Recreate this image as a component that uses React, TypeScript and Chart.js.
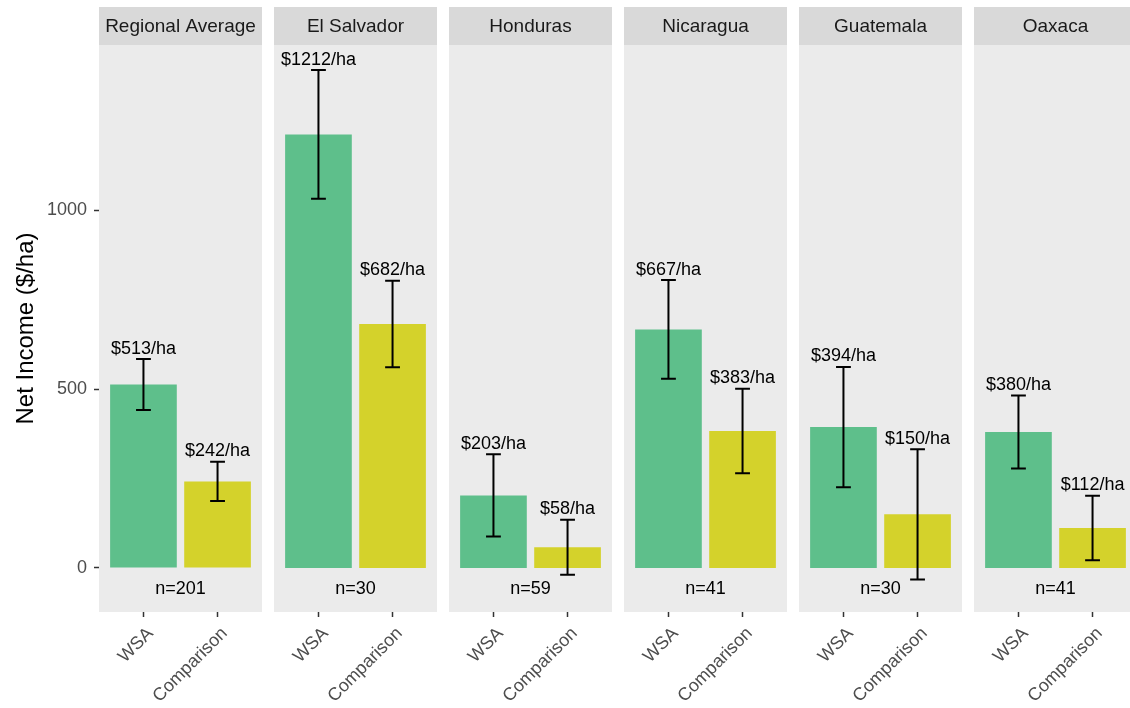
import React, { useEffect, useRef } from "react";
import { Chart, registerables } from "chart.js";

Chart.register(...registerables);

// Net income per hectare, WSA plots vs. comparison plots, by region
const regions = ["Regional Average", "El Salvador", "Honduras", "Nicaragua", "Guatemala", "Oaxaca"];
const groups = ["WSA", "Comparison"];
const wsaIncome = [513, 1212, 203, 667, 394, 380];
const comparisonIncome = [242, 682, 58, 383, 150, 112];
const wsaError = [71, 180, 115, 138, 168, 102];
const comparisonError = [55, 121, 77, 118, 182, 90];
const sampleSizes = [201, 30, 59, 41, 30, 41];
const yTicks = [0, 500, 1000];

const Y_MIN = -123;
const Y_MAX = 1462;
const N_LABEL_Y = -60;

const groupColors = ["#5EBF8B", "#D4D22B"];
const FONT = "'Liberation Sans', Arial, Helvetica, sans-serif";

const WIDTH = 1130;
const HEIGHT = 708;
const AXIS_WIDTH = 99;
const PANEL_WIDTH = 163;
const PANEL_GAP = 12;
const STRIP_TOP = 7;
const PANEL_TOP = 45;
const PANEL_BOTTOM = 612;

function makeFacetPlugin(i: number) {
  const means = [wsaIncome[i], comparisonIncome[i]];
  const errors = [wsaError[i], comparisonError[i]];
  return {
    id: "facet" + i,
    beforeDraw(chart: any) {
      const { ctx, chartArea } = chart;
      const { left, right, top, bottom } = chartArea;
      ctx.save();
      ctx.fillStyle = "#EBEBEB";
      ctx.fillRect(left, top, right - left, bottom - top);
      ctx.fillStyle = "#D9D9D9";
      ctx.fillRect(left, STRIP_TOP, right - left, top - STRIP_TOP);
      ctx.fillStyle = "#1A1A1A";
      ctx.font = `19px ${FONT}`;
      ctx.textAlign = "center";
      ctx.textBaseline = "middle";
      ctx.fillText(regions[i], (left + right) / 2, (STRIP_TOP + top) / 2 + 1);
      ctx.restore();
    },
    afterDatasetsDraw(chart: any) {
      const { ctx, chartArea } = chart;
      const xs = chart.scales.x;
      const ys = chart.scales.y;
      ctx.save();
      means.forEach((m, k) => {
        const xv = k + 1;
        const cx = xs.getPixelForValue(xv);
        const capL = xs.getPixelForValue(xv - 0.1);
        const capR = xs.getPixelForValue(xv + 0.1);
        const hi = ys.getPixelForValue(m + errors[k]);
        const lo = ys.getPixelForValue(m - errors[k]);
        ctx.strokeStyle = "#000";
        ctx.lineWidth = 2;
        ctx.beginPath();
        ctx.moveTo(cx, hi);
        ctx.lineTo(cx, lo);
        ctx.moveTo(capL, hi);
        ctx.lineTo(capR, hi);
        ctx.moveTo(capL, lo);
        ctx.lineTo(capR, lo);
        ctx.stroke();
        ctx.fillStyle = "#000";
        ctx.font = `18px ${FONT}`;
        ctx.textAlign = "center";
        ctx.textBaseline = "alphabetic";
        ctx.fillText(`$${m}/ha`, cx, hi - 5.5);
      });
      ctx.fillStyle = "#000";
      ctx.font = `18px ${FONT}`;
      ctx.textAlign = "center";
      ctx.textBaseline = "middle";
      ctx.fillText(`n=${sampleSizes[i]}`, (chartArea.left + chartArea.right) / 2, ys.getPixelForValue(N_LABEL_Y));
      ctx.restore();
    },
  };
}

function Panel({ index }: { index: number }) {
  const ref = useRef<HTMLCanvasElement>(null);
  const first = index === 0;
  const half = PANEL_GAP / 2;
  const canvasLeft = first ? 0 : AXIS_WIDTH + (PANEL_WIDTH + PANEL_GAP) * index - half;
  const canvasWidth = first ? AXIS_WIDTH + PANEL_WIDTH + half : PANEL_WIDTH + PANEL_GAP;

  useEffect(() => {
    if (!ref.current) return;
    const chart = new Chart(ref.current, {
      type: "bar",
      data: {
        datasets: [
          {
            data: groups.map((_, k) => ({
              x: k + 1,
              y: k === 0 ? wsaIncome[index] : comparisonIncome[index],
            })),
            backgroundColor: groupColors,
            borderWidth: 0,
            barPercentage: 0.9,
            categoryPercentage: 1,
          },
        ],
      },
      options: {
        animation: false,
        responsive: false,
        devicePixelRatio: 1,
        events: [],
        layout: {
          padding: { left: first ? 0 : half, right: half, top: PANEL_TOP, bottom: 0 },
        },
        plugins: {
          legend: { display: false },
          tooltip: { enabled: false },
        },
        scales: {
          x: {
            type: "linear",
            min: 0.4,
            max: 2.6,
            offset: false,
            afterBuildTicks: (s: any) => {
              s.ticks = groups.map((_, k) => ({ value: k + 1 }));
            },
            afterFit: (s: any) => {
              s.height = HEIGHT - PANEL_BOTTOM;
              s.paddingLeft = 0;
              s.paddingRight = 0;
            },
            ticks: {
              callback: (_v: any, idx: number) => groups[idx],
              autoSkip: false,
              minRotation: 45,
              maxRotation: 45,
              color: "#4D4D4D",
              font: { family: FONT, size: 18 },
              padding: 6,
              labelOffset: 7,
            },
            grid: {
              display: true,
              offset: false,
              drawOnChartArea: false,
              drawTicks: true,
              tickLength: 5,
              tickColor: "#333333",
              tickWidth: 1.5,
            },
            border: { display: false },
          },
          y: {
            type: "linear",
            min: Y_MIN,
            max: Y_MAX,
            display: first,
            afterBuildTicks: (s: any) => {
              s.ticks = yTicks.map((v) => ({ value: v }));
            },
            afterFit: (s: any) => {
              s.width = first ? AXIS_WIDTH : 0;
            },
            ticks: {
              callback: (v: any) => String(v),
              color: "#4D4D4D",
              font: { family: FONT, size: 18 },
              padding: 7,
            },
            grid: {
              display: true,
              drawOnChartArea: false,
              drawTicks: true,
              tickLength: 5,
              tickColor: "#333333",
              tickWidth: 1.5,
            },
            border: { display: false },
            title: {
              display: true,
              text: "Net Income ($/ha)",
              color: "#000",
              font: { family: FONT, size: 24 },
              padding: { top: 12, bottom: 0 },
            },
          },
        },
      },
      plugins: [makeFacetPlugin(index)],
    } as any);
    return () => chart.destroy();
  }, [index]);

  return (
    <canvas
      ref={ref}
      width={canvasWidth}
      height={HEIGHT}
      style={{ position: "absolute", left: canvasLeft, top: 0, width: canvasWidth, height: HEIGHT }}
    />
  );
}

export default function App() {
  return (
    <div
      style={{
        position: "fixed",
        left: 0,
        top: 0,
        width: WIDTH,
        height: HEIGHT,
        background: "#FFFFFF",
        overflow: "hidden",
      }}
    >
      {regions.map((_, i) => (
        <Panel key={i} index={i} />
      ))}
    </div>
  );
}
